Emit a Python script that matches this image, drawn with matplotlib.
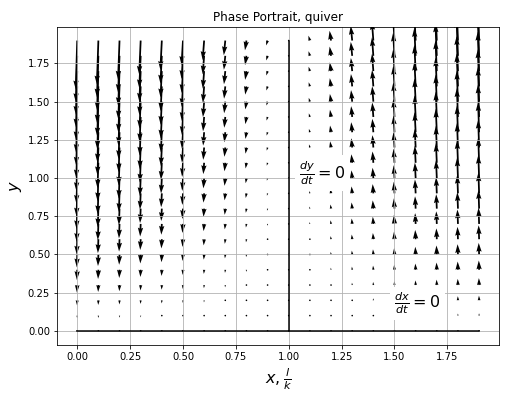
import numpy as np
import matplotlib.pyplot as plt

# grid of states
x_vals = np.arange(0, 2.0, 0.1)
y_vals = np.arange(0, 2.0, 0.1)
X, Y = np.meshgrid(x_vals, y_vals)

# vector field of the system
U = -0.03 * Y
V = Y * (X - 1)

fig, ax = plt.subplots(figsize=(510/72, 403/72), dpi=72)
ax.quiver(X, Y, U, V, pivot='tail', width=0.004)

# nullclines
ax.plot([0, 1.9], [0, 0], color='black')
ax.plot([1, 1], [0, 1.9], color='black')

ax.text(1.05, 1.0, r'$\frac{dy}{dt} = 0$', fontsize=16,
        bbox=dict(facecolor='white', edgecolor='none'))
ax.text(1.5, 0.15, r'$\frac{dx}{dt} = 0$', fontsize=16,
        bbox=dict(facecolor='white', edgecolor='none'))

ax.set_title('Phase Portrait, quiver')
ax.set_xlabel(r'$x, \frac{l}{k}$', fontsize=16)
ax.set_ylabel(r'$y$', fontsize=16)
ax.set_xticks(np.arange(0, 2.0, 0.25))
ax.set_yticks(np.arange(0, 2.0, 0.25))
ax.set_ylim(-0.095, 1.99)
ax.set_xlim(-0.095, 1.995)
ax.grid(True)

plt.tight_layout()
fig.subplots_adjust(left=0.112)
fig.savefig('out.png')
